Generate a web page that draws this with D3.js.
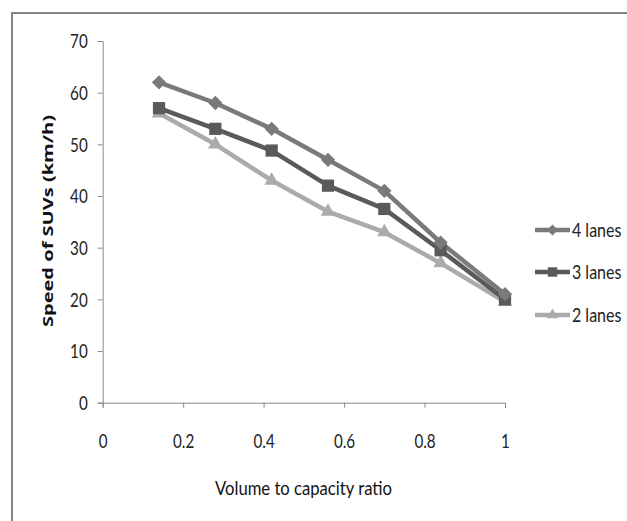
<!DOCTYPE html>
<html><head><meta charset="utf-8">
<script src="https://cdn.jsdelivr.net/npm/d3@7"></script>
<style>body{margin:0;background:#fff;} svg{display:block;}</style>
</head><body>
<svg id="chart" width="627" height="521"></svg>
<script>
const xValues = [0.14, 0.28, 0.42, 0.56, 0.70, 0.84, 1.0];
const lanes4 = [62, 58, 53, 47, 41, 31, 21];
const lanes3 = [57, 53, 48.8, 42, 37.5, 29.5, 20];
const lanes2 = [56, 50, 43, 37, 33, 27, 19.5];
const seriesNames = ["4 lanes", "3 lanes", "2 lanes"];
const xTicks = [0, 0.2, 0.4, 0.6, 0.8, 1];
const yTicks = [0, 10, 20, 30, 40, 50, 60, 70];

const series = [
  {name: seriesNames[0], values: lanes4, color: "#7a7a7a", shape: d3.symbolDiamond2, size: 130},
  {name: seriesNames[1], values: lanes3, color: "#5a5a5a", shape: d3.symbolSquare2, size: 190},
  {name: seriesNames[2], values: lanes2, color: "#ababab", shape: d3.symbolTriangle2, size: 150}
];

const svg = d3.select("#chart");
const tickFont = "Lato, 'Open Sans', sans-serif";
const squeeze = 0.8;

// outer frame
svg.append("path").attr("d", "M12,521 L12,13 L627,13")
  .attr("fill", "none").attr("stroke", "#858585").attr("stroke-width", 2);

const x = d3.scaleLinear().domain([0, 1]).range([102.7, 505]);
const y = d3.scaleLinear().domain([0, 70]).range([402.7, 41]);

const xAxis = svg.append("g").attr("transform", `translate(0,${y(0)})`)
  .call(d3.axisBottom(x).tickValues(xTicks).tickSize(5).tickFormat(d => d3.format("")(d)));
const yAxis = svg.append("g").attr("transform", `translate(${x(0)},0)`)
  .call(d3.axisLeft(y).tickValues(yTicks).tickSize(5));
[xAxis, yAxis].forEach(g => {
  g.select(".domain").attr("stroke", "#8a8a8a");
  g.selectAll(".tick line").attr("stroke", "#8a8a8a");
  g.selectAll("text").attr("font-family", tickFont).attr("font-size", 19).attr("fill", "#222");
});
xAxis.selectAll(".tick text").attr("x", 0).attr("y", 0).attr("dy", "0.35em")
  .attr("transform", `translate(0,39) scale(${squeeze},1)`);
yAxis.selectAll(".tick text").attr("x", 0).attr("dy", "0.35em")
  .attr("transform", `translate(-15,0) scale(${squeeze},1)`);

const line = d3.line().x((d, i) => x(xValues[i])).y(d => y(d));
series.slice().reverse().forEach(s => {
  svg.append("path").datum(s.values).attr("d", line)
    .attr("fill", "none").attr("stroke", s.color).attr("stroke-width", 4.5).attr("stroke-linejoin", "round");
});
series.slice().reverse().forEach(s => {
  svg.append("g").selectAll("path").data(s.values).join("path")
    .attr("transform", (d, i) => `translate(${x(xValues[i])},${y(d)})`)
    .attr("d", d3.symbol().type(s.shape).size(s.size))
    .attr("fill", s.color);
});

// legend
const legY = [230, 272, 315];
series.forEach((s, i) => {
  const g = svg.append("g").attr("transform", `translate(535,${legY[i]})`);
  g.append("line").attr("x1", 0).attr("x2", 35).attr("stroke", s.color).attr("stroke-width", 4.5);
  g.append("path").attr("transform", "translate(17.5,0)")
    .attr("d", d3.symbol().type(s.shape).size(s.size * 0.6)).attr("fill", s.color);
  g.append("text").attr("transform", `translate(37,0) scale(${squeeze},1)`).attr("dy", "0.35em")
    .attr("font-family", tickFont).attr("font-size", 20).attr("fill", "#222").text(s.name);
});

// axis titles
svg.append("text").attr("x", 303.5).attr("y", 495).attr("text-anchor", "middle")
  .attr("font-family", tickFont).attr("font-size", 19).attr("fill", "#111")
  .attr("textLength", 177).attr("lengthAdjust", "spacingAndGlyphs")
  .text("Volume to capacity ratio");
svg.append("text").attr("transform", "translate(53,221) rotate(-90)").attr("text-anchor", "middle")
  .attr("font-family", "'Open Sans', 'DejaVu Sans', sans-serif").attr("font-weight", "bold").attr("font-size", 15).attr("fill", "#111")
  .attr("textLength", 212).attr("lengthAdjust", "spacingAndGlyphs")
  .text("Speed of SUVs (km/h)");
</script>
</body></html>
